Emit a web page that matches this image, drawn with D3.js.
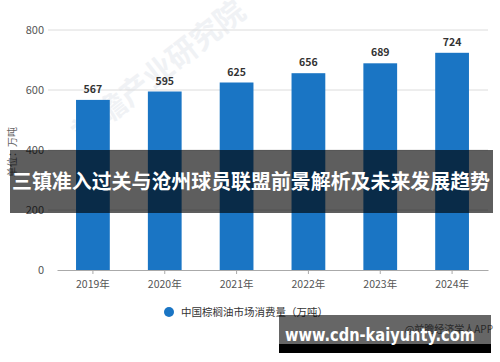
<!DOCTYPE html>
<html>
<head>
<meta charset="utf-8">
<script src="https://cdn.jsdelivr.net/npm/d3@7"></script>
<style>
  body { margin: 0; background: #fff; }
  svg { display: block; font-family: "Noto Sans CJK SC", "Noto Sans", sans-serif; }
</style>
</head>
<body>
<svg id="chart" width="500" height="362"></svg>
<script>
// data
var years = ['2019年', '2020年', '2021年', '2022年', '2023年', '2024年']
var consumption = [567, 595, 625, 656, 689, 724]
var yTicks = [0, 200, 400, 600, 800]
var seriesName = '中国棕榈油市场消费量（万吨）'
var yLabel = '单位：万吨'
var bannerText = '三镇准入过关与沧州球员联盟前景解析及未来发展趋势'
var siteText = 'www.cdn-kaiyunty.com'

var margin = {top: 30, right: 12, bottom: 92, left: 57},
  width = 500 - margin.left - margin.right,
  height = 362 - margin.top - margin.bottom

var svg = d3.select('#chart')

// faint watermark, behind everything
svg.append('text')
  .attr('transform', 'translate(165,80) rotate(-38)')
  .attr('text-anchor', 'middle')
  .attr('font-size', 30)
  .attr('font-weight', 'bold')
  .attr('fill', '#f0f2f5')
  .text('前瞻产业研究院')

var x = d3.scaleBand().domain(years).range([0, width]).paddingInner(0.53).paddingOuter(0.265)
var y = d3.scaleLinear().domain([0, 800]).range([height, 0])

var g = svg.append('g')
  .attr('transform', 'translate(' + margin.left + ',' + margin.top + ')')

// grid lines
g.selectAll('.grid')
  .data(yTicks.filter(function(d) { return d > 0 }))
  .enter().append('line')
    .attr('x1', -9)
    .attr('x2', width)
    .attr('y1', function(d) { return y(d) })
    .attr('y2', function(d) { return y(d) })
    .attr('stroke', '#dcdcdc')
    .attr('stroke-width', 1)

// y axis labels
g.selectAll('.ylab')
  .data(yTicks)
  .enter().append('text')
    .attr('x', -13)
    .attr('y', function(d) { return y(d) })
    .attr('dy', '0.35em')
    .attr('text-anchor', 'end')
    .attr('font-size', 11)
    .attr('fill', '#555')
    .text(function(d) { return d })

// bars
g.selectAll('.bar')
  .data(consumption)
  .enter().append('rect')
    .attr('x', function(d, i) { return x(years[i]) })
    .attr('y', function(d) { return y(d) })
    .attr('width', x.bandwidth())
    .attr('height', function(d) { return height - y(d) })
    .attr('fill', '#1a75c4')

// value labels
g.selectAll('.val')
  .data(consumption)
  .enter().append('text')
    .attr('x', function(d, i) { return x(years[i]) + x.bandwidth() / 2 })
    .attr('y', function(d) { return y(d) - 7 })
    .attr('text-anchor', 'middle')
    .attr('font-size', 10.5)
    .attr('font-weight', 'bold')
    .attr('fill', '#333')
    .text(function(d) { return d })

// x axis
var xAxis = g.append('g')
  .attr('transform', 'translate(0,' + height + ')')
  .call(d3.axisBottom(x).tickSize(4).tickSizeOuter(0))
xAxis.select('.domain').attr('stroke', '#aaa')
xAxis.selectAll('.tick line').attr('stroke', '#aaa')
xAxis.selectAll('.tick text')
  .attr('font-size', 10.5)
  .attr('fill', '#555')
  .attr('dy', '1.05em')
  .attr('font-family', '"Noto Sans CJK SC", sans-serif')

// y axis title
svg.append('text')
  .attr('transform', 'translate(16,152) rotate(-90)')
  .attr('text-anchor', 'middle')
  .attr('font-size', 10)
  .attr('fill', '#666')
  .text(yLabel)

// legend
svg.append('circle')
  .attr('cx', 169)
  .attr('cy', 312)
  .attr('r', 5)
  .attr('fill', '#1a75c4')
svg.append('text')
  .attr('x', 181)
  .attr('y', 312)
  .attr('dy', '0.35em')
  .attr('font-size', 10.5)
  .attr('fill', '#333')
  .text(seriesName)

// overlay banner
svg.append('rect')
  .attr('x', 10)
  .attr('y', 150)
  .attr('width', 483)
  .attr('height', 63)
  .attr('fill', 'rgba(0,0,0,0.63)')
svg.append('text')
  .attr('x', 251)
  .attr('y', 182)
  .attr('dy', '0.35em')
  .attr('text-anchor', 'middle')
  .attr('font-size', 20)
  .attr('font-weight', 'bold')
  .attr('fill', '#fff')
  .attr('textLength', 478)
  .attr('lengthAdjust', 'spacingAndGlyphs')
  .text(bannerText)

// source text, partly hidden by the site banner
svg.append('text')
  .attr('x', 493)
  .attr('y', 333)
  .attr('text-anchor', 'end')
  .attr('font-size', 10)
  .attr('fill', '#666')
  .text('@前瞻经济学人APP')

// site banner
svg.append('rect')
  .attr('x', 279)
  .attr('y', 315)
  .attr('width', 212)
  .attr('height', 38)
  .attr('fill', 'rgba(0,0,0,0.6)')
svg.append('rect')
  .attr('x', 279)
  .attr('y', 344)
  .attr('width', 212)
  .attr('height', 9)
  .attr('fill', '#000')
svg.append('text')
  .attr('x', 380)
  .attr('y', 341)
  .attr('text-anchor', 'middle')
  .attr('font-size', 17)
  .attr('font-weight', 'bold')
  .attr('fill', '#fff')
  .attr('font-family', '"DejaVu Sans", sans-serif')
  .attr('textLength', 190)
  .attr('lengthAdjust', 'spacingAndGlyphs')
  .text(siteText)
</script>
</body>
</html>
